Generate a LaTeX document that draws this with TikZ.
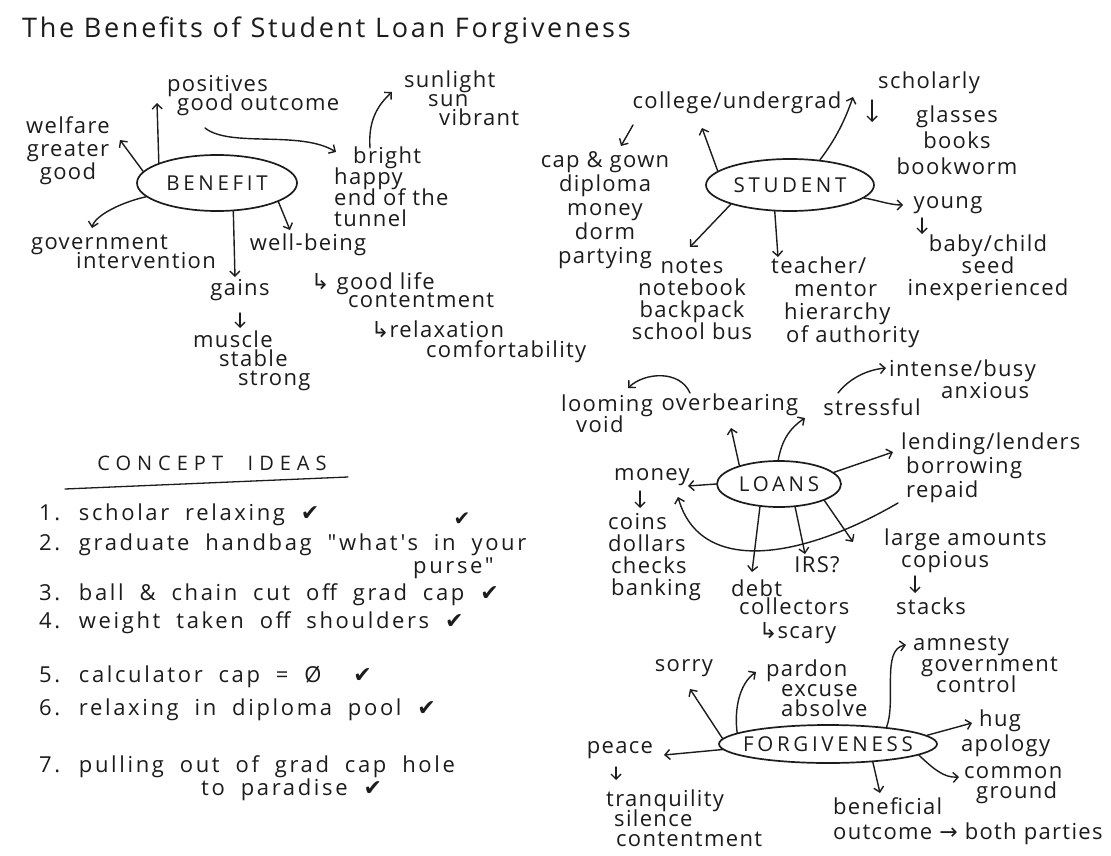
\documentclass[tikz,border=0pt]{standalone}
\usepackage{fontspec}
\usetikzlibrary{shapes.geometric,arrows.meta}
\definecolor{ink}{HTML}{1C1C1C}
\newfontfamily\hw{Open Sans}[LetterSpace=6]
\newfontfamily\hwl{Open Sans}[LetterSpace=12, WordSpace=1.9]
\newfontfamily\hwc{Open Sans}[LetterSpace=18]
\newfontfamily\hwt{Open Sans}[LetterSpace=30, WordSpace=2.2]
\newfontfamily\hwtitle{Open Sans}[LetterSpace=10]
\newfontfamily\sym{DejaVu Sans}
\newcommand{\hwf}[2]{\hw\fontsize{#1}{#2}\selectfont\lineskiplimit=-50pt\relax}
\begin{document}
\begin{tikzpicture}[x=1pt,y=-1pt,
  txt/.style={inner sep=1pt, text=ink, font=\hwf{22}{22}},
  txtl/.style={txt, align=left, anchor=west},
  txtc/.style={txt, align=center},
  hub/.style={ellipse, draw=ink, line width=1.7pt, inner sep=0pt},
  hubtxt/.style={text=ink, font=\hwc\fontsize{20.5}{22}\selectfont, inner sep=0pt},
  arr/.style={draw=ink, line width=1.4pt, line cap=round, -{Straight Barb[length=5pt,width=10pt]}},
  li/.style={anchor=west, inner sep=1pt, text=ink, font=\hwl\fontsize{22}{24}\selectfont}]
\fill[white] (0,0) rectangle (1111,856);
\useasboundingbox (0,0) rectangle (1111,856);

% title
\node[anchor=west, inner sep=0pt, text=ink, font=\hwtitle\fontsize{27}{30}\selectfont] (title) at (22,30) {The Benefits of Student Loan Forgiveness};

% ---------- BENEFIT ----------
\node[hub, minimum width=160pt, minimum height=56pt, label={[hubtxt]center:BENEFIT}] (ben) at (217,183) {};
\node[txtc, font=\hwf{22}{23}] (wel) at (68,151) {welfare\\greater\\good};
\node[txtl, font=\hwf{22}{19}] (pos) at (166,96) {positives\\\hspace*{10pt}good outcome};
\node[txtl, font=\hwf{22}{19}] (sun) at (403,98) {sunlight\\\hspace*{24pt}sun\\\hspace*{35pt}vibrant};
\node[txtl, font=\hwf{22}{21}] (bri) at (333,187) {\hspace*{19pt}bright\\happy\\end of the\\tunnel};
\node[txtl, font=\hwf{22}{19}] (gov) at (30,252) {government\\\hspace*{45pt}intervention};
\node[txtc] (wb) at (308,245) {well-being};
\node[txtc] (gains) at (240,290) {gains};
\node[txtl, font=\hwf{22}{19}] (mus) at (192,361) {muscle\\\hspace*{26pt}stable\\\hspace*{45pt}strong};
\node[txtl, font=\hwf{22}{18}] (gl) at (310,290) {{\sym ↳} good life\\\hspace*{37pt}contentment};
\node[txtl, font=\hwf{22}{20}] (rel) at (370,342) {{\sym ↳}relaxation\\\hspace*{55pt}comfortability};

\draw[arr] (ben.171) -- ([shift={(52pt,11pt)}]wel.center);
\draw[arr] (ben.161) -- ([shift={(-9pt,-7pt)}]pos.west);
\draw[arr] ([shift={(39pt,-32pt)}]pos.west) .. controls +(25,20) and +(-36,-22) .. ([shift={(3pt,35pt)}]bri.west);
\draw[arr] ([shift={(37pt,39pt)}]bri.west) .. controls +(-2,-28) and +(-14,13) .. ([shift={(-11pt,6pt)}]sun.west);
\draw[arr] (ben.343) -- ([shift={(-18pt,15pt)}]wb.center);
\draw[arr] (ben.300) -- ([shift={(-5pt,13pt)}]gains.center);
\draw[arr] ([shift={(0pt,-23pt)}]gains.center) -- ([shift={(48pt,33pt)}]mus.west);
\draw[arr] (ben.191) .. controls +(-23,5) and +(3,-13) .. ([shift={(62pt,24pt)}]gov.west);

% ---------- STUDENT ----------
\node[hub, minimum width=168pt, minimum height=52pt, label={[hubtxt]center:STUDENT}] (stu) at (790,185) {};
\node[txtc] (col) at (737,103) {college/undergrad};
\node[txtc, font=\hwf{22}{24}] (cap) at (605,210) {cap \& gown\\diploma\\money\\dorm\\partying};
\node[txtl] (sch) at (877,83) {scholarly};
\node[txtc, font=\hwf{22}{26}] (gla) at (957,140) {glasses\\books\\bookworm};
\node[txtc] (yng) at (948,205) {young};
\node[txtc, font=\hwf{22}{22}] (baby) at (988,268) {baby/child\\seed\\inexperienced};
\node[txtc, font=\hwf{22}{22}] (notes) at (692,299) {notes\\notebook\\backpack\\school bus};
\node[txtl, font=\hwf{22}{23}] (tea) at (770,302) {teacher/\\\hspace*{23pt}mentor\\\hspace*{13pt}hierarchy\\\hspace*{15pt}of authority};

\draw[arr] (stu.169) -- ([shift={(-35pt,-25pt)}]col.center);
\draw[arr] ([shift={(-104pt,-22pt)}]col.center) -- ([shift={(16pt,64pt)}]cap.center);
\draw[arr] (stu.40) .. controls +(16,-21) and +(-8,23) .. ([shift={(-24pt,-14pt)}]sch.west);
\draw[arr] ([shift={(-5pt,-17pt)}]sch.west) -- ([shift={(-85pt,18pt)}]gla.center);
\draw[arr] (stu.350) .. controls +(13,2) and +(-13,0) .. ([shift={(-45pt,0pt)}]yng.center);
\draw[arr] ([shift={(-26pt,-13pt)}]yng.center) -- ([shift={(-66pt,34pt)}]baby.center);
\draw[arr] (stu.198) -- ([shift={(-2pt,52pt)}]notes.center);
\draw[arr] (stu.240) -- ([shift={(8pt,45pt)}]tea.west);

% ---------- LOANS ----------
\node[hub, minimum width=124pt, minimum height=46pt, label={[hubtxt]center:LOANS}] (loa) at (779,484) {};
\node[txtl, font=\hwf{22}{21}] (loo) at (560,414) {looming\\\hspace*{15pt}void};
\node[txtc] (ove) at (730,405) {overbearing};
\node[txtc] (stf) at (872,407) {stressful};
\node[txtl, font=\hwf{22}{22}] (int) at (888,379) {intense/busy\\\hspace*{52pt}anxious};
\node[txtl, font=\hwf{22}{24}] (len) at (900,468) {lending/lenders\\\hspace*{5pt}borrowing\\\hspace*{5pt}repaid};
\node[txtc] (mon) at (652,477) {money};
\node[txtl, font=\hwf{22}{22}] (coins) at (607,557) {coins\\dollars\\\hspace*{3pt}checks\\\hspace*{3pt}banking};
\node[txtl, font=\hwf{22}{18}] (debt) at (730,597) {debt\\\hspace*{8pt}collectors};
\node[txtl] (scary) at (758,633) {{\sym ↳}scary};
\node[txtc] (irs) at (817,565) {IRS?};
\node[txtl, font=\hwf{22}{22}] (lrg) at (883,551) {large amounts\\\hspace*{17pt}copious};
\node[txtc] (stk) at (931,606) {stacks};

\draw[arr] (loa.155) -- ([shift={(1pt,-23pt)}]ove.center);
\draw[arr] ([shift={(-40pt,12pt)}]ove.center) .. controls +(-10,-23) and +(17,-16) .. ([shift={(68pt,26pt)}]loo.west);
\draw[arr] (loa.92) .. controls +(4,-21) and +(-15,10) .. ([shift={(-67pt,-11pt)}]stf.center);
\draw[arr] ([shift={(-34pt,14pt)}]stf.center) .. controls +(10,-13) and +(-21,2) .. ([shift={(-2pt,11pt)}]int.west);
\draw[arr] (loa.12) -- ([shift={(-7pt,16pt)}]len.west);
\draw[arr] ([shift={(-2pt,-35pt)}]len.west) .. controls +(-98,57) and +(22,78) .. ([shift={(26pt,-20pt)}]mon.center);
\draw[arr] (loa.180) -- ([shift={(36pt,-9pt)}]mon.center);
\draw[arr] ([shift={(-12pt,-14pt)}]mon.center) -- ([shift={(33pt,49pt)}]coins.west);
\draw[arr] (loa.230) -- ([shift={(22pt,25pt)}]debt.west);
\draw[arr] (loa.305) -- ([shift={(-12pt,11pt)}]irs.center);
\draw[arr] (loa.340) -- ([shift={(-30pt,9pt)}]lrg.west);
\draw[arr] ([shift={(32pt,-25pt)}]lrg.west) -- ([shift={(-16pt,13pt)}]stk.center);

% ---------- FORGIVENESS ----------
\node[hub, minimum width=218pt, minimum height=38pt, label={[hubtxt]center:FORGIVENESS}] (fgv) at (828,744) {};
\node[txtc] (sorry) at (684,668) {sorry};
\node[txtl, font=\hwf{22}{20}] (par) at (765,688) {pardon\\\hspace*{15pt}excuse\\\hspace*{15pt}absolve};
\node[txtl, font=\hwf{22}{21}] (amn) at (912,664) {amnesty\\\hspace*{8pt}government\\\hspace*{23pt}control};
\node[txtl, font=\hwf{22}{25}] (hug) at (960,733) {\hspace*{18pt}hug\\apology};
\node[txtl, font=\hwf{22}{20}] (com) at (963,785) {common\\\hspace*{12pt}ground};
\node[txtl, font=\hwf{22}{25}] (bnf) at (832,821) {beneficial\\outcome {\sym →} both parties};
\node[txtc] (peace) at (620,750) {peace};
\node[txtl, font=\hwf{22}{20}] (tra) at (605,818) {tranquility\\\hspace*{8pt}silence\\\hspace*{10pt}contentment};

\draw[arr] (fgv.177) -- ([shift={(6pt,-21pt)}]sorry.center);
\draw[arr] (fgv.173) .. controls +(-3,-23) and +(-17,12) .. ([shift={(-9pt,16pt)}]par.west);
\draw[arr] (fgv.16) .. controls +(10,-27) and +(-25,4) .. ([shift={(-6pt,19pt)}]amn.west);
\draw[arr] (fgv.5) -- ([shift={(12pt,10pt)}]hug.west);
\draw[arr] (fgv.353) .. controls +(15,14) and +(-15,1) .. ([shift={(-4pt,8pt)}]com.west);
\draw[arr] (fgv.338) -- ([shift={(48pt,28pt)}]bnf.west);
\draw[arr] (fgv.183) -- ([shift={(44pt,-5pt)}]peace.center);
\draw[arr] ([shift={(-4pt,-17pt)}]peace.center) -- ([shift={(11pt,38pt)}]tra.west);

% ---------- CONCEPT IDEAS ----------
\node[inner sep=0pt, text=ink, font=\hwt\fontsize{20}{22}\selectfont] (ci) at (212,463) {CONCEPT IDEAS};
\draw[ink, line width=1.3pt, line cap=round] (65,489) -- (348,477);
\node[li] (i1) at (38,515) {1. scholar relaxing {\sym ✔}};
\node[li] (i2) at (38,545) {2. graduate handbag "what's in your};
\node[inner sep=0pt, text=ink, font=\sym\fontsize{20}{24}\selectfont] (c2) at (462,519) {✔};
\node[li] (i2b) at (412,568) {purse"};
\node[li] (i3) at (38,595) {3. ball \& chain cut off grad cap {\sym ✔}};
\node[li] (i4) at (38,623) {4. weight taken off shoulders {\sym ✔}};
\node[li] (i5) at (38,677) {5. calculator cap = Ø \ {\sym ✔}};
\node[li] (i6) at (38,710) {6. relaxing in diploma pool {\sym ✔}};
\node[li] (i7) at (38,767) {7. pulling out of grad cap hole};
\node[li] (i7b) at (200,790) {to paradise {\sym ✔}};
\end{tikzpicture}
\end{document}
